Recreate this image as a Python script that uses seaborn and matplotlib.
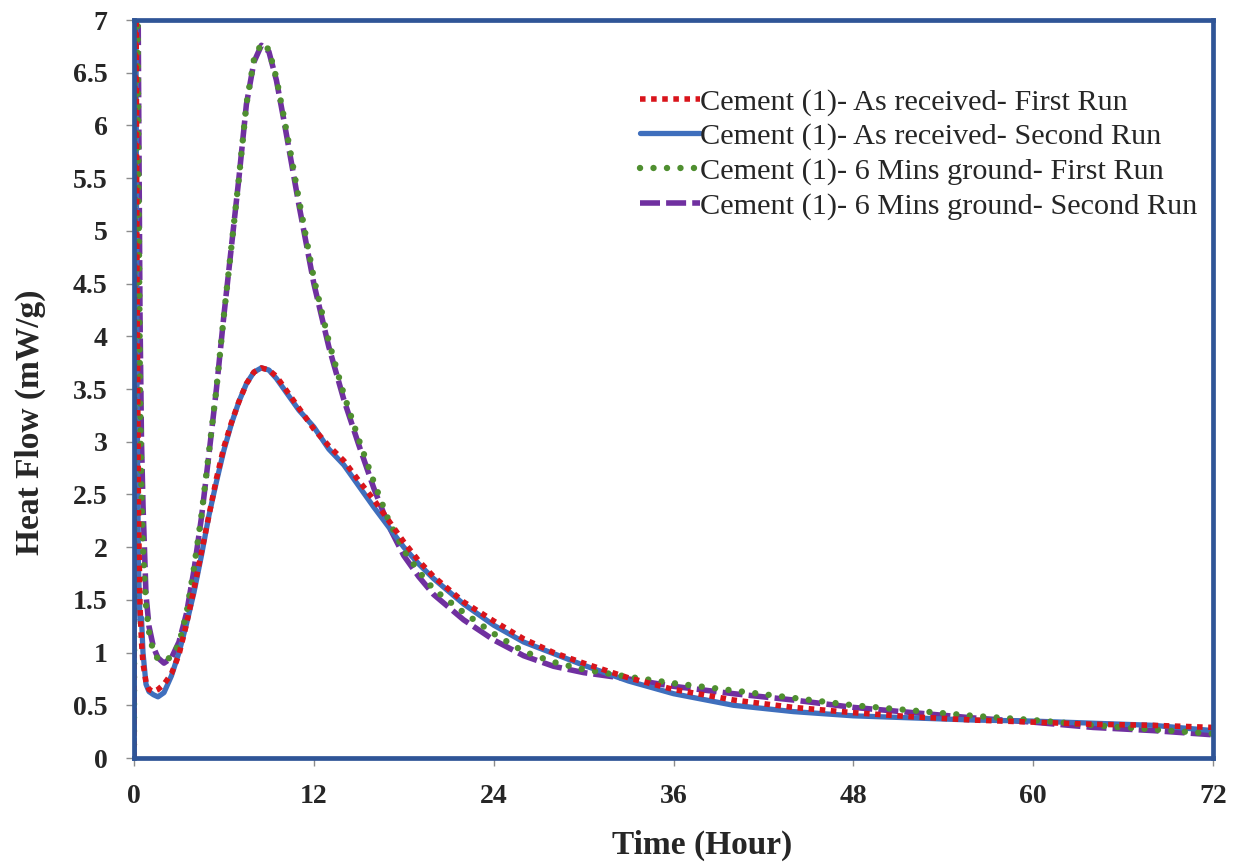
import matplotlib
matplotlib.use("Agg")
import matplotlib.pyplot as plt
import seaborn as sns
import pandas as pd

hours = [0, 0.05, 0.1, 0.2, 0.3, 0.4, 0.5, 0.6, 0.8, 1.0, 1.3, 1.6, 2.0, 2.5, 3, 3.5, 4, 4.5,
         5, 5.5, 6, 6.5, 7, 7.5, 8, 8.5, 9, 9.5, 10, 10.5, 11, 12, 13, 14, 15, 16, 17, 18, 19,
         20, 22, 24, 26, 28, 30, 33, 36, 40, 44, 48, 52, 56, 60, 64, 68, 72]

as_received_first = [0, 6, 9, 4.5, 2.3, 1.45, 1.1, 0.9, 0.72, 0.65, 0.63, 0.65, 0.7, 0.8, 0.98, 1.27,
                     1.6, 1.95, 2.3, 2.65, 2.95, 3.18, 3.38, 3.55, 3.66, 3.7, 3.68, 3.62, 3.52, 3.42,
                     3.32, 3.12, 2.96, 2.82, 2.63, 2.45, 2.25, 2.05, 1.87, 1.72, 1.48, 1.3, 1.13, 1.0,
                     0.9, 0.76, 0.65, 0.55, 0.48, 0.43, 0.39, 0.36, 0.34, 0.32, 0.31, 0.29]

as_received_second = [0, 5, 8.5, 3.5, 1.8, 1.3, 1.33, 1.0, 0.7, 0.63, 0.6, 0.58, 0.62, 0.78, 1.0, 1.27,
                      1.57, 1.92, 2.3, 2.62, 2.92, 3.17, 3.38, 3.55, 3.66, 3.7, 3.68, 3.6, 3.5, 3.4,
                      3.3, 3.14, 2.93, 2.78, 2.58, 2.38, 2.19, 2.0, 1.84, 1.7, 1.46, 1.26, 1.1, 0.99,
                      0.88, 0.73, 0.61, 0.5, 0.44, 0.4, 0.38, 0.36, 0.35, 0.33, 0.31, 0.26]

ground_first = [0, 7, 10, 8, 5.5, 3.5, 2.55, 2.0, 1.45, 1.2, 1.0, 0.94, 0.92, 0.96, 1.08, 1.37,
                1.8, 2.3, 2.9, 3.5, 4.2, 4.85, 5.5, 6.2, 6.62, 6.78, 6.72, 6.45, 6.08, 5.7,
                5.3, 4.55, 3.95, 3.45, 3.02, 2.62, 2.25, 1.97, 1.77, 1.6, 1.38, 1.18, 1.01, 0.91,
                0.84, 0.77, 0.71, 0.64, 0.57, 0.5, 0.45, 0.4, 0.36, 0.31, 0.27, 0.23]

ground_second = [0, 8, 10, 9, 6.5, 4.2, 3.0, 2.4, 1.55, 1.25, 1.05, 0.95, 0.9, 0.95, 1.1, 1.37,
                 1.78, 2.28, 2.88, 3.5, 4.2, 4.85, 5.5, 6.2, 6.6, 6.76, 6.7, 6.43, 6.05, 5.65,
                 5.25, 4.5, 3.9, 3.4, 2.97, 2.56, 2.2, 1.92, 1.72, 1.55, 1.31, 1.12, 0.97, 0.87,
                 0.81, 0.75, 0.68, 0.61, 0.55, 0.48, 0.43, 0.38, 0.34, 0.29, 0.26, 0.22]

series_names = ["Cement (1)- As received- First Run",
                "Cement (1)- As received- Second Run",
                "Cement (1)- 6 Mins ground- First Run",
                "Cement (1)- 6 Mins ground- Second Run"]
series_values = [as_received_first, as_received_second, ground_first, ground_second]

x_ticks = [0, 12, 24, 36, 48, 60, 72]
y_ticks = [0, 0.5, 1, 1.5, 2, 2.5, 3, 3.5, 4, 4.5, 5, 5.5, 6, 6.5, 7]
y_tick_labels = ["0", "0.5", "1", "1.5", "2", "2.5", "3", "3.5", "4", "4.5", "5", "5.5", "6", "6.5", "7"]

sns.set_theme(style="white")
plt.rcParams["font.family"] = ["Liberation Serif", "DejaVu Serif"]

fig = plt.figure(figsize=(12.39, 8.67), dpi=100)
ax = fig.add_axes([134 / 1239, 1 - 758 / 867, (1213 - 134) / 1239, (758 - 20) / 867])

styles = [
    dict(color="#d9141b", linestyle=(0, (1, 1)), dash_capstyle="butt", lw=4.0, zorder=4),
    dict(color="#3f6fbd", linestyle="-", solid_capstyle="round", lw=3.8, zorder=3),
    dict(color="#4f8f30", linestyle=(0, (0.01, 2.1)), dash_capstyle="round", lw=4.6, zorder=3.5),
    dict(color="#7030a0", linestyle=(0, (3.6, 1.1)), dash_capstyle="butt", lw=4.0, zorder=2.5),
]

for name, vals, st in zip(series_names, series_values, styles):
    df = pd.DataFrame({"hours": hours, "flow": vals})
    sns.lineplot(data=df, x="hours", y="flow", ax=ax, label=name,
                 estimator=None, sort=False, **st)

ax.set_xlim(0, 72)
ax.set_ylim(0, 7)
ax.set_xticks(x_ticks)
ax.set_xticklabels([str(t) for t in x_ticks])
ax.set_yticks(y_ticks)
ax.set_yticklabels(y_tick_labels)
for lab in ax.get_xticklabels() + ax.get_yticklabels():
    lab.set_fontweight("bold")
    lab.set_fontsize(20)
ax.tick_params(axis="both", direction="out", length=6, width=1, color="#8c8c8c",
               bottom=True, left=True, pad=13)

for sp in ax.spines.values():
    sp.set_visible(True)
    sp.set_color("#2f5597")
    sp.set_linewidth(3.4)
    sp.set_zorder(5)

ax.set_xlabel("Time (Hour)", fontsize=24, fontweight="bold")
ax.set_ylabel("Heat Flow (mW/g)", fontsize=24, fontweight="bold")
ax.xaxis.set_label_coords((702 - 134) / 1079, (758 - 830) / 738)
ax.yaxis.set_label_coords((46 - 134) / 1079, (758 - 422) / 738)

leg = ax.legend(loc="upper left", bbox_to_anchor=(640 / 1239, 1 - 88 / 867),
                bbox_transform=fig.transFigure, frameon=False,
                fontsize=21.8, handlelength=1.98, handletextpad=0.0,
                labelspacing=0.24, borderaxespad=0, borderpad=0)

fig.savefig("out.png", dpi=100)
